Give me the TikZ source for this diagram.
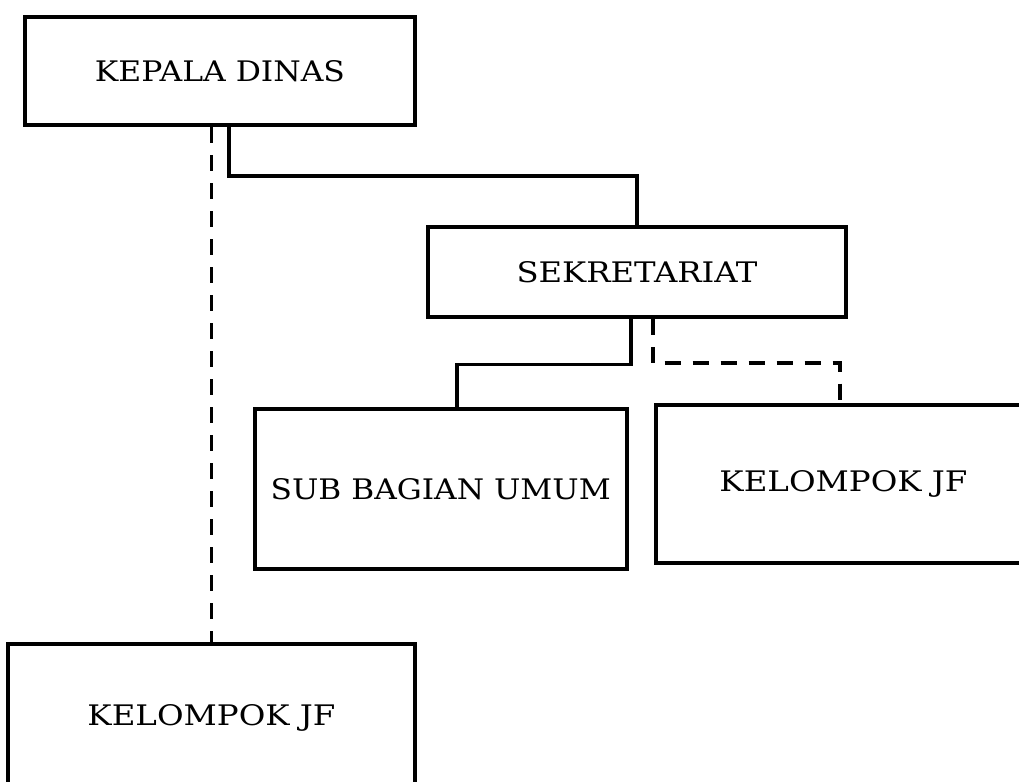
\documentclass[tikz,border=0pt]{standalone}
\usepackage{fontspec}
\setmainfont{DejaVu Serif}
\usepackage{graphicx}
\newcommand{\boxlbl}[2]{\resizebox{#1}{10.5pt}{#2}}
\tikzset{
  unit/.style={draw, line width=2pt, inner sep=0pt, fill=white},
  link/.style={line width=1.9pt},
  duty/.style={line width=1.9pt, dash pattern=on 8pt off 6pt},
}
\begin{document}
\begin{tikzpicture}[x=0.5pt,y=-0.5pt]
\useasboundingbox (0,0) rectangle (1019,782);
\clip (0,0) rectangle (1019,782);
\node[unit, minimum width=195pt, minimum height=54pt] (kepala) at (220,71) {\boxlbl{125pt}{KEPALA DINAS}};
\node[unit, minimum width=209pt, minimum height=45pt] (sek) at (637,272) {\boxlbl{120.5pt}{SEKRETARIAT}};
\node[unit, minimum width=185.75pt, minimum height=80pt] (sub) at (440.75,489) {\boxlbl{170pt}{SUB BAGIAN UMUM}};
\node[unit, minimum width=187.5pt, minimum height=79pt] (jfa) at (843.5,484) {\boxlbl{124pt}{KELOMPOK JF}};
\node[unit, minimum width=203.5pt, minimum height=73.5pt] (jfb) at (211.5,717.5) {\boxlbl{124pt}{KELOMPOK JF}};
\draw[duty] (kepala.south -| jfb.north) -- (jfb.north);
\draw[link] ([xshift=4.65pt]kepala.south) -- ++(0,49) -| (sek.north);
\draw[link] ([xshift=-3pt]sek.south) -- ++(0,45.5) -| ([xshift=8.1pt]sub.north);
\draw[duty] ([xshift=7.85pt]sek.south) -- ++(0,44) -| ([xshift=-1.75pt]jfa.north);
\end{tikzpicture}
\end{document}
